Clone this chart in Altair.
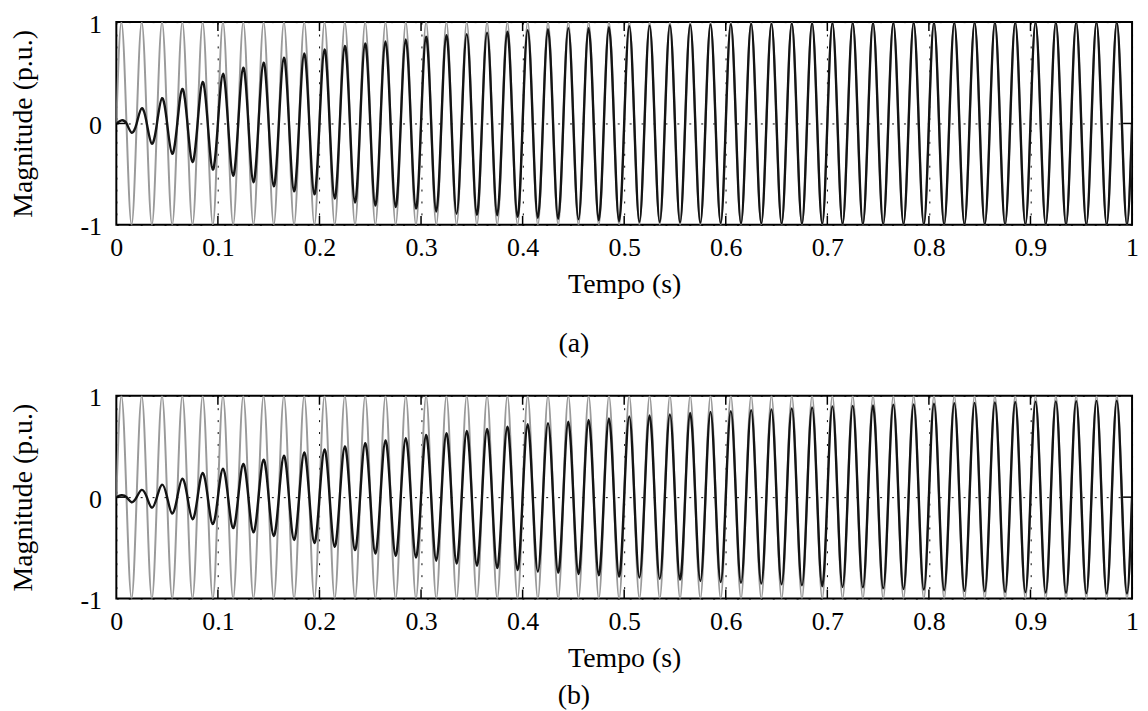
import altair as alt
import pandas as pd

# ---- values -----------------------------------------------------------
# 50 Hz waveforms, 0..1 s. One extreme value per half cycle.
# reference (gray) waveform: unit amplitude
ref_peaks = [1.0] * 50
ref_troughs = [-1.0] * 50

# (a) filtered signal: positive peaks at t = 0.005 + 0.02k
peaks_a = [0.03, 0.15, 0.25, 0.34, 0.41, 0.49, 0.55, 0.60, 0.65, 0.69,
           0.73, 0.765, 0.79, 0.81, 0.83, 0.855, 0.87, 0.88, 0.895, 0.905,
           0.92, 0.93, 0.94, 0.94, 0.95, 0.96, 0.965, 0.97, 0.975, 0.978,
           0.98, 0.983, 0.985, 0.987, 0.989, 0.99, 0.992, 0.993, 0.994, 0.995,
           0.995, 0.996, 0.997, 0.997, 0.998, 0.998, 0.998, 0.999, 0.999, 0.999]
# (a) negative troughs at t = 0.015 + 0.02k
troughs_a = [-0.09, -0.20, -0.30, -0.38, -0.455, -0.515, -0.58, -0.62, -0.67, -0.70,
             -0.74, -0.78, -0.81, -0.825, -0.84, -0.87, -0.89, -0.90, -0.905, -0.92,
             -0.93, -0.94, -0.945, -0.955, -0.965, -0.97, -0.972, -0.976, -0.979, -0.982,
             -0.984, -0.986, -0.988, -0.99, -0.991, -0.992, -0.993, -0.994, -0.995, -0.996,
             -0.996, -0.997, -0.997, -0.998, -0.998, -0.998, -0.999, -0.999, -0.999, -0.999]

# (b) filtered signal
peaks_b = [0.02, 0.072, 0.124, 0.183, 0.239, 0.281, 0.327, 0.369, 0.408, 0.44,
           0.47, 0.50, 0.533, 0.559, 0.582, 0.614, 0.631, 0.654, 0.673, 0.696,
           0.719, 0.729, 0.745, 0.761, 0.777, 0.795, 0.805, 0.815, 0.83, 0.84,
           0.847, 0.857, 0.866, 0.875, 0.885, 0.895, 0.90, 0.905, 0.912, 0.915,
           0.922, 0.927, 0.93, 0.935, 0.938, 0.942, 0.945, 0.947, 0.95, 0.952]
troughs_b = [-0.05, -0.104, -0.162, -0.218, -0.266, -0.305, -0.347, -0.383, -0.422, -0.452,
             -0.49, -0.523, -0.556, -0.578, -0.595, -0.627, -0.654, -0.676, -0.699, -0.719,
             -0.735, -0.745, -0.758, -0.771, -0.784, -0.792, -0.805, -0.814, -0.827, -0.837,
             -0.845, -0.853, -0.86, -0.87, -0.879, -0.886, -0.89, -0.90, -0.906, -0.912,
             -0.918, -0.925, -0.93, -0.935, -0.938, -0.94, -0.944, -0.948, -0.95, -0.951]

period = 0.02
x_ticks = [0.0, 0.1, 0.2, 0.3, 0.4, 0.5, 0.6, 0.7, 0.8, 0.9, 1.0]
y_ticks = [-1.0, 0.0, 1.0]
inner_x_ticks = x_ticks[1:-1]
inner_y_ticks = [0.0]

FONT = "Liberation Serif"
W, H = 1022, 204
TICK = 9


def waveform(peaks, troughs):
    """samples at zero crossings and extremes of each cycle"""
    t, v = [], []
    for k in range(len(peaks)):
        base = period * k
        t += [base, base + period / 4, base + period / 2, base + 3 * period / 4]
        v += [0.0, peaks[k], 0.0, troughs[k]]
    t.append(period * len(peaks))
    v.append(0.0)
    return pd.DataFrame({"t": t, "v": v})


x_enc = alt.X("t:Q",
              scale=alt.Scale(domain=[0, 1], nice=False, zero=False),
              axis=alt.Axis(values=x_ticks, format=".1~f", title="Tempo (s)",
                            tickCount=20,
                            grid=True, gridDash=[2, 10], gridColor="black",
                            gridOpacity=1, gridWidth=1,
                            ticks=False, tickSize=0, domain=False,
                            labelOverlap=False,
                            labelPadding=10, titlePadding=10, labelFlush=False))
y_enc = alt.Y("v:Q",
              scale=alt.Scale(domain=[-1, 1], nice=False, zero=False),
              axis=alt.Axis(values=y_ticks, tickCount=10,
                            labelExpr="replace(format(datum.value, '.0f'), '\u2212', '-')",
                            title="Magnitude (p.u.)",
                            grid=True, gridDash=[2, 10], gridColor="black",
                            gridOpacity=1, gridWidth=1,
                            ticks=False, tickSize=0, domain=False,
                            labelOverlap=False, labelOffset=2,
                            labelPadding=15, titlePadding=43))


def panel(peaks, troughs, label, offset):
    ref = alt.Chart(waveform(ref_peaks, ref_troughs)).mark_line(
        color="#9a9a9a", strokeWidth=2, interpolate="natural", clip=True
    ).encode(x=x_enc, y=y_enc)
    sig = alt.Chart(waveform(peaks, troughs)).mark_line(
        color="#141414", strokeWidth=2.4, interpolate="natural", clip=True
    ).encode(x=x_enc, y=y_enc)
    xt = pd.DataFrame({"t": inner_x_ticks})
    yt = pd.DataFrame({"v": inner_y_ticks})
    tick_bot = alt.Chart(xt).mark_rule(color="black", strokeWidth=1.5).encode(
        x=x_enc, y=alt.value(H - TICK), y2=alt.value(H))
    tick_top = alt.Chart(xt).mark_rule(color="black", strokeWidth=1.5).encode(
        x=x_enc, y=alt.value(0), y2=alt.value(TICK))
    tick_l = alt.Chart(yt).mark_rule(color="black", strokeWidth=1.5).encode(
        y=y_enc, x=alt.value(0), x2=alt.value(TICK))
    tick_r = alt.Chart(yt).mark_rule(color="black", strokeWidth=1.5).encode(
        y=y_enc, x=alt.value(W - TICK), x2=alt.value(W))
    return alt.layer(ref, sig, tick_bot, tick_top, tick_l, tick_r).properties(
        width=W, height=H,
        title=alt.TitleParams(label, orient="bottom", anchor="middle", frame="bounds",
                              offset=offset, fontSize=28, font=FONT,
                              fontWeight="normal", color="black"))


chart = alt.vconcat(
    panel(peaks_a, troughs_a, "(a)", 32),
    panel(peaks_b, troughs_b, "(b)", 10),
    spacing=25,
).properties(
    padding={"left": 0, "top": 0, "right": 0, "bottom": 0}
).configure_view(
    stroke="black", strokeWidth=2
).configure_axis(
    labelFont=FONT, titleFont=FONT, labelFontSize=26, titleFontSize=28,
    labelColor="black", titleColor="black", titleFontWeight="normal"
)

chart.save("out.html", embed_options={"renderer": "svg", "actions": False})
